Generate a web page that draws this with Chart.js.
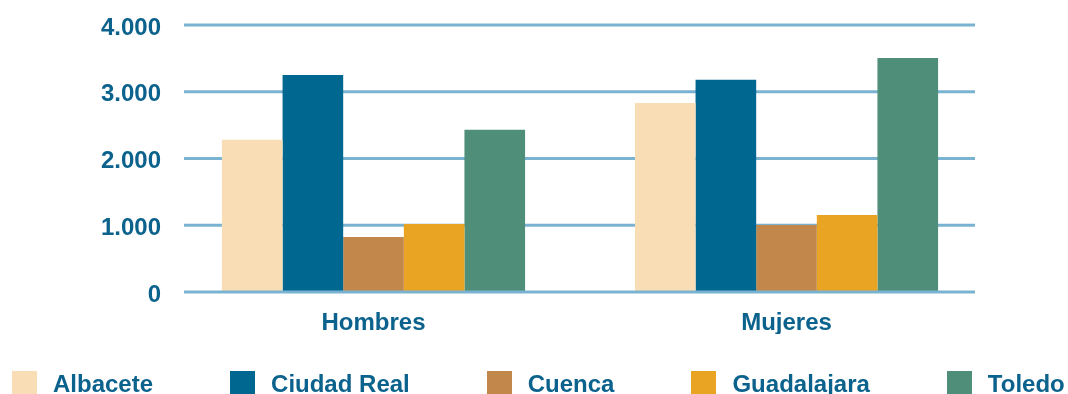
<html>
<head>
  <title>Hombres y Mujeres por provincia</title>
  <style>
    body { margin: 0; background: #fff; font-family: "Liberation Sans", Arial, sans-serif; }
    .wrap { position: relative; width: 1068px; height: 394px; overflow: hidden; }
    #legend { position: absolute; left: 12px; top: 371px; display: flex; white-space: nowrap; }
    .item { display: flex; align-items: center; margin-right: 77px; }
    .box { width: 25px; height: 25px; margin-right: 16px; }
    .txt { font-size: 24px; font-weight: bold; line-height: 25px; color: #0b628c; }
  </style>
</head>
<body>
<div class="wrap">
  <canvas id="barChart" width="1068" height="394"></canvas>
  <div id="legend"></div>
</div>
<script src="https://cdn.jsdelivr.net/npm/chart.js"></script>
<script>
  // datos
  const categories = ['Hombres', 'Mujeres'];
  const provinces = ['Albacete', 'Ciudad Real', 'Cuenca', 'Guadalajara', 'Toledo'];
  const albacete = [2280, 2830];
  const ciudadReal = [3250, 3180];
  const cuenca = [825, 1005];
  const guadalajara = [1020, 1155];
  const toledo = [2430, 3505];
  const colors = ['#f8ddb5', '#006791', '#c2874a', '#e9a423', '#4f8f79'];

  const textColor = '#0b628c';
  const font = { family: '"Liberation Sans", Arial, sans-serif', size: 24, weight: 'bold' };

  // líneas horizontales (el 0 va encima de las barras)
  function drawLines(chart, zeroOnly) {
    const ctx = chart.ctx;
    const y = chart.scales.y;
    ctx.save();
    ctx.strokeStyle = '#7ab3d1';
    ctx.lineWidth = 3;
    y.ticks.forEach(t => {
      if ((t.value === 0) !== zeroOnly) return;
      const py = y.getPixelForValue(t.value);
      ctx.beginPath();
      ctx.moveTo(184, py);
      ctx.lineTo(975, py);
      ctx.stroke();
    });
    ctx.restore();
  }
  const gridPlugin = {
    id: 'gridLines',
    beforeDatasetsDraw(chart) { drawLines(chart, false); },
    afterDatasetsDraw(chart) { drawLines(chart, true); }
  };

  const series = [albacete, ciudadReal, cuenca, guadalajara, toledo];
  const chart = new Chart(document.getElementById('barChart'), {
    type: 'bar',
    data: {
      labels: categories,
      datasets: provinces.map((name, i) => ({
        label: name,
        data: series[i],
        backgroundColor: colors[i],
        borderWidth: 0,
        barPercentage: 1,
        categoryPercentage: 0.734
      }))
    },
    options: {
      responsive: false,
      animation: false,
      layout: { padding: { top: 25, right: 75, bottom: 60, left: 0 } },
      plugins: {
        legend: { display: false },
        tooltip: { enabled: false }
      },
      scales: {
        x: {
          grid: { display: false, drawTicks: false },
          border: { display: false },
          ticks: { color: textColor, font: font, padding: 17 },
          afterFit: s => { s.height = 42; }
        },
        y: {
          min: 0,
          max: 4000,
          grid: { display: false, drawTicks: false },
          border: { display: false },
          ticks: {
            stepSize: 1000,
            color: textColor,
            font: font,
            padding: 6,
            labelOffset: 3,
            callback: v => String(v).replace(/\B(?=(\d{3})+(?!\d))/g, '.')
          },
          afterFit: s => { s.width = 167; }
        }
      }
    },
    plugins: [gridPlugin]
  });

  // leyenda
  const legendDiv = document.getElementById('legend');
  chart.data.datasets.forEach(ds => {
    const item = document.createElement('div');
    item.className = 'item';
    item.innerHTML = `<span class="box" style="background:${ds.backgroundColor}"></span><span class="txt">${ds.label}</span>`;
    legendDiv.appendChild(item);
  });
</script>
</body>
</html>
